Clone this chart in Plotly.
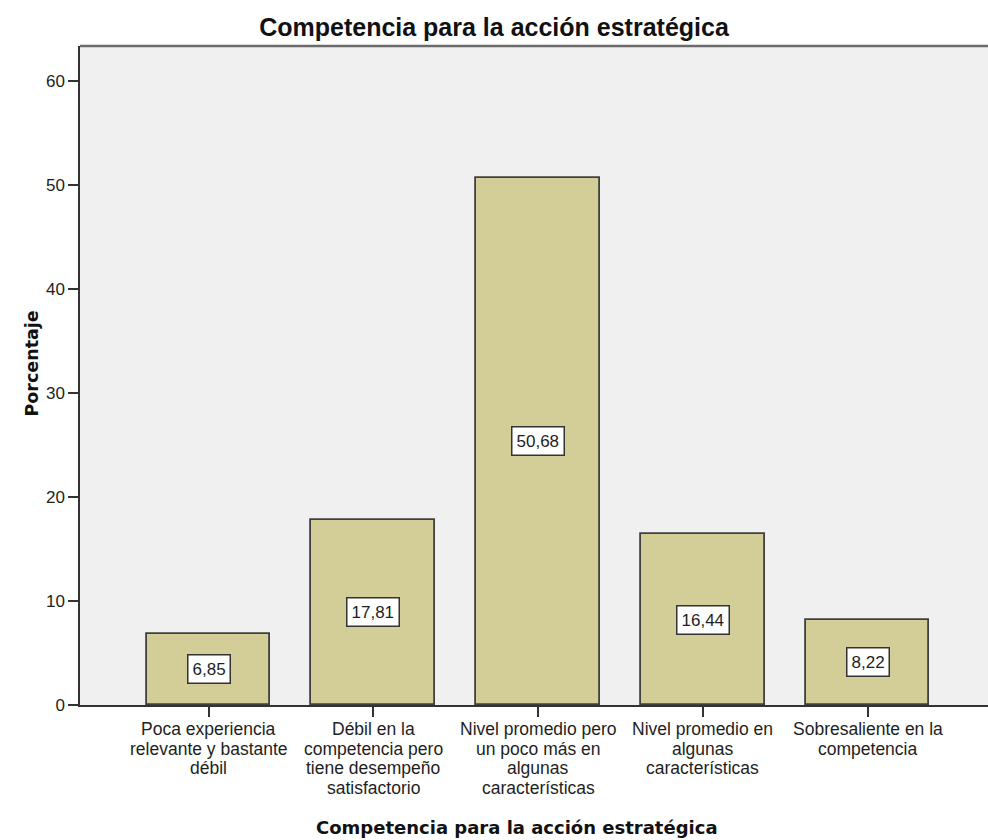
import plotly.graph_objects as go

categories = [
    "Poca experiencia<br>relevante y bastante<br>débil",
    "Débil en la<br>competencia pero<br>tiene desempeño<br>satisfactorio",
    "Nivel promedio pero<br>un poco más en<br>algunas<br>características",
    "Nivel promedio en<br>algunas<br>características",
    "Sobresaliente en la<br>competencia",
]
percentages = [6.85, 17.81, 50.68, 16.44, 8.22]
y_ticks = [0, 10, 20, 30, 40, 50, 60]

title_text = "Competencia para la acción estratégica"
y_title = "Porcentaje"

sans = "Liberation Sans, Arial, sans-serif"
wide_bold = "DejaVu Sans, Verdana, sans-serif"
text_color = "#1E1E1E"

positions = list(range(len(categories)))

fig = go.Figure()
fig.add_trace(go.Bar(
    x=positions,
    y=percentages,
    width=0.75,
    marker=dict(color="#D3CE97", line=dict(color="#404040", width=1.8)),
    hoverinfo="skip",
))

# value boxes centred in each bar
for xi, v in zip(positions, percentages):
    fig.add_annotation(
        x=xi, y=v / 2, text=f"{v:.2f}".replace(".", ","),
        showarrow=False, bgcolor="white", bordercolor="#333333", borderwidth=1.5,
        borderpad=4, font=dict(family=sans, size=17, color=text_color),
    )

# category labels, one line at a time for tight line spacing
line_step = 19.7
for xi, label in zip(positions, categories):
    for k, line in enumerate(label.split("<br>")):
        fig.add_annotation(
            x=xi, xref="x", y=0, yref="paper", yanchor="middle",
            yshift=-24 - k * line_step, text=line, showarrow=False,
            font=dict(family=sans, size=17.5, color=text_color),
        )

# axis titles
fig.add_annotation(
    x=0.4818, xref="paper", y=0, yref="paper", yanchor="middle", yshift=-122,
    text="<b>" + title_text + "</b>", showarrow=False,
    font=dict(family=wide_bold, size=18, color="#111111"),
)
fig.add_annotation(
    x=0, xref="paper", xshift=-61, y=0.5, yref="paper", yshift=12,
    text="<b>" + y_title + "</b>", textangle=-90, showarrow=False,
    font=dict(family=wide_bold, size=17.5, color="#111111"),
)

fig.update_layout(
    width=988, height=840,
    margin=dict(l=80, r=0, t=46, b=135),
    paper_bgcolor="white",
    plot_bgcolor="#F0F0F0",
    showlegend=False,
    bargap=0,
    title=dict(text="<b>" + title_text + "</b>", x=0.5, xanchor="center",
               y=1 - 27 / 840, yanchor="middle",
               font=dict(family=sans, size=25, color="#111111")),
    font=dict(family=sans, color=text_color),
)

fig.update_xaxes(
    range=[-0.78, 4.731],
    tickmode="array", tickvals=positions, showticklabels=False,
    ticks="outside", ticklen=10, tickcolor="#333333", tickwidth=1.5,
    showline=True, linecolor="#333333", linewidth=1.5,
    showgrid=False, zeroline=False,
)
fig.update_yaxes(
    range=[0, 63.37],
    tickmode="array", tickvals=y_ticks,
    ticks="outside", ticklen=10, tickcolor="#333333", tickwidth=1.5,
    showline=True, linecolor="#333333", linewidth=1.5,
    showgrid=False, zeroline=False,
    tickfont=dict(family=sans, size=17, color=text_color),
)

# top frame line of the plot area
fig.add_shape(type="line", xref="paper", yref="paper", x0=0, x1=1, y0=1, y1=1,
              line=dict(color="#6A6A6A", width=2.5))

fig.write_html("out.html")
